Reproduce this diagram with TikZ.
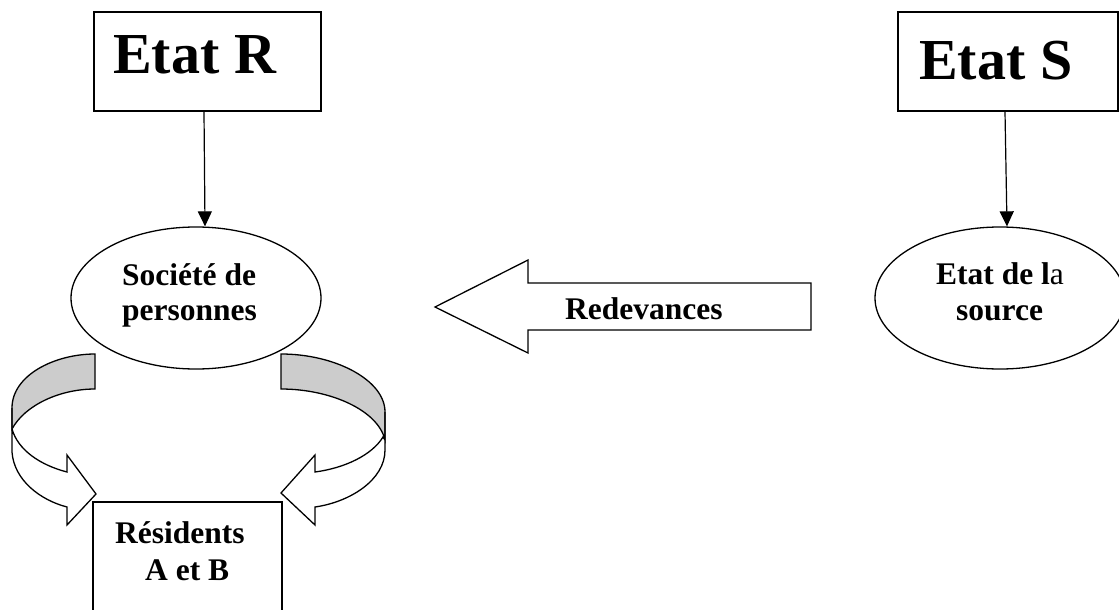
\documentclass[tikz,border=0pt]{standalone}
\usepackage{fontspec}
\setmainfont{Liberation Serif}
\usetikzlibrary{arrows.meta,shapes.geometric}
\begin{document}
\begin{tikzpicture}[x=1pt,y=-1pt,
  box/.style={draw,line width=1.3pt,rectangle,inner sep=0pt},
  oval/.style={draw,line width=1.3pt,ellipse,inner sep=0pt,minimum width=250pt,minimum height=142pt},
  bigtxt/.style={anchor=base west,inner sep=0pt,font=\bfseries\fontsize{58pt}{64pt}\selectfont},
  txt/.style={anchor=base west,inner sep=0pt,font=\bfseries\fontsize{31.5pt}{36pt}\selectfont},
  conn/.style={line width=1.2pt,-{Triangle[width=14pt,length=15pt]}},
  ribbon/.style={draw,line width=1.3pt,line join=miter}
]
\useasboundingbox (0,0) rectangle (1119,610);
\clip (0,0) rectangle (1119,610);

% boxes
\node[box,minimum width=227pt,minimum height=99pt] (etatR) at (207.5,61.5) {};
\node[box,minimum width=220pt,minimum height=99pt] (etatS) at (1008,61.5) {};
\node[box,minimum width=189pt,minimum height=112pt] (res) at (187.5,558) {};
\node[bigtxt] (tR) at (113,74) {Etat R};
\node[bigtxt] (tS) at (919,79) {Etat S};

% ellipses
\node[oval] (soc) at (196,298) {};
\node[oval] (src) at (1000,298) {};
\node[txt] (soc1) at (122,285) {Société de};
\node[txt] (soc2) at (122,320) {personnes};
\node[anchor=base west,inner sep=0pt,font=\fontsize{31.5pt}{36pt}\selectfont] (src1) at (936,284) {\textbf{Etat de l}a};
\node[txt] (src2) at (956,320) {source};
\node[txt] (res1) at (115,543) {Résidents};
\node[txt] (res2) at (145,580) {A et B};

% connectors
\draw[conn] ([xshift=-3.5pt]etatR.south) -- ([xshift=9pt]soc.north);
\draw[conn] ([xshift=-3pt]etatS.south) -- ([xshift=7pt]src.north);

% Redevances block arrow
\draw[ribbon,fill=white] (435,307) -- (528,260) -- (528,283) -- (811,283) -- (811,330) -- (528,330) -- (528,353) -- cycle;
\node[txt] (red) at (565,319) {Redevances};

% left curved arrow
\draw[ribbon,fill=black!20] (95,354) .. controls (55,354) and (12,375) .. (12,408)
  -- (12,429) .. controls (25,405) and (60,389) .. (95,389) -- cycle;
\draw[ribbon,fill=white] (12,408) -- (12,452) .. controls (14,480) and (40,500) .. (67,507)
  -- (67,525) -- (96,494) -- (67,455) -- (67,472)
  .. controls (40,465) and (18,450) .. (12,429) -- cycle;

% right curved arrow
\draw[ribbon,fill=black!20] (281,354) .. controls (335,354) and (385,380) .. (385,412)
  -- (385,440) .. controls (378,410) and (330,389) .. (281,389) -- cycle;
\draw[ribbon,fill=white] (385,412) -- (385,450) .. controls (385,480) and (350,502) .. (315,507)
  -- (315,525) -- (281,493) -- (315,455) -- (315,472)
  .. controls (345,468) and (372,455) .. (383,437) -- (385,440) -- cycle;
\end{tikzpicture}
\end{document}
